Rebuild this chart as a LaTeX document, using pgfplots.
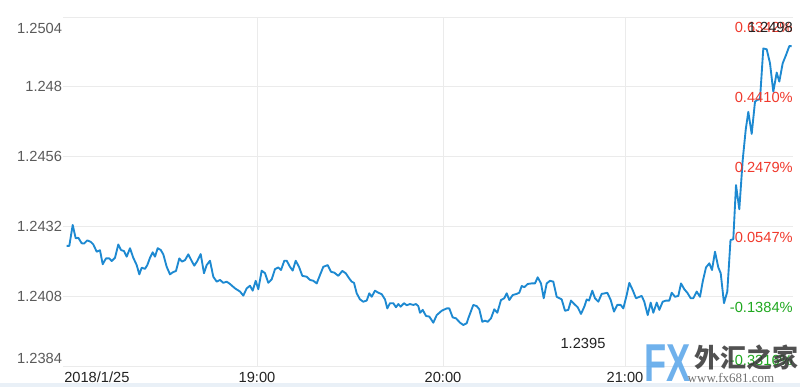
\documentclass[border=0pt]{standalone}
\usepackage{fontspec}
\setmainfont{Liberation Sans}
\newfontfamily\cjk{Noto Sans CJK SC}
\newfontfamily\wmserif{Liberation Serif}
\usepackage{pgfplots}
\usepackage{pgfplotstable}
\pgfplotsset{compat=1.18}
\definecolor{lineblue}{HTML}{1D89D1}
\definecolor{gridgray}{HTML}{EBEBEB}
\definecolor{ylab}{HTML}{5A5A5A}
\definecolor{xlab}{HTML}{222222}
\definecolor{upred}{HTML}{F0392C}
\definecolor{dngreen}{HTML}{1FA81F}
\definecolor{wmblue}{HTML}{5FA8EA}
\definecolor{band}{HTML}{E9F0F7}

\pgfplotstableread{
x y
66.7 1.24253
69.3 1.24253
72.7 1.24325
75.7 1.24279
78.3 1.24281
81.7 1.24262
84.0 1.24261
87.3 1.24272
90.7 1.24267
93.3 1.24258
96.7 1.24233
100.0 1.24238
102.7 1.24190
106.0 1.24210
109.3 1.24210
111.7 1.24201
115.0 1.24212
118.3 1.24258
121.0 1.24239
124.0 1.24235
126.7 1.24216
130.0 1.24245
133.3 1.24212
136.7 1.24187
139.3 1.24155
141.7 1.24178
145.0 1.24174
147.3 1.24187
150.0 1.24212
152.7 1.24231
155.0 1.24216
157.7 1.24245
160.7 1.24239
163.3 1.24224
166.7 1.24181
170.0 1.24155
172.7 1.24162
176.0 1.24167
179.3 1.24210
182.0 1.24199
185.0 1.24204
188.3 1.24224
191.7 1.24201
194.3 1.24185
197.3 1.24201
200.7 1.24225
204.0 1.24159
206.7 1.24187
210.0 1.24202
213.3 1.24147
216.7 1.24130
220.0 1.24136
223.3 1.24126
226.7 1.24130
230.0 1.24122
235.0 1.24107
240.0 1.24096
243.3 1.24082
246.7 1.24107
250.0 1.24116
252.7 1.24099
255.7 1.24133
258.3 1.24104
261.7 1.24168
265.0 1.24159
268.3 1.24126
271.7 1.24138
275.0 1.24173
278.3 1.24179
281.0 1.24170
284.3 1.24202
286.7 1.24202
290.0 1.24181
292.7 1.24168
295.7 1.24202
299.0 1.24181
302.3 1.24150
306.7 1.24147
310.0 1.24136
313.3 1.24133
316.7 1.24124
320.0 1.24153
323.3 1.24181
327.7 1.24187
331.0 1.24164
334.3 1.24161
338.3 1.24150
342.3 1.24167
345.7 1.24159
349.0 1.24142
351.7 1.24130
354.0 1.24126
356.7 1.24090
360.0 1.24069
363.3 1.24061
366.7 1.24065
369.3 1.24090
371.7 1.24078
375.0 1.24099
378.3 1.24092
381.7 1.24087
385.0 1.24069
387.3 1.24038
390.0 1.24056
393.3 1.24056
396.0 1.24042
398.3 1.24053
400.7 1.24044
404.0 1.24056
406.7 1.24049
410.0 1.24053
413.3 1.24050
416.0 1.24053
418.3 1.24046
420.0 1.24023
422.7 1.24033
426.0 1.24012
429.3 1.24010
433.3 1.23989
436.7 1.24015
441.7 1.24030
446.7 1.24038
449.3 1.24038
452.7 1.24007
456.0 1.24004
460.0 1.23989
463.3 1.23981
466.7 1.23987
468.3 1.24004
473.3 1.24050
476.7 1.24046
479.3 1.24035
482.3 1.23992
485.0 1.23996
487.7 1.23992
491.0 1.24004
494.3 1.24035
497.3 1.24023
501.0 1.24067
504.3 1.24073
506.7 1.24090
509.3 1.24067
512.7 1.24084
516.7 1.24088
519.3 1.24092
521.7 1.24115
524.3 1.24111
527.7 1.24122
531.7 1.24124
535.0 1.24124
537.7 1.24145
541.0 1.24124
543.7 1.24073
546.7 1.24124
550.0 1.24133
553.3 1.24130
556.7 1.24078
561.7 1.24069
565.0 1.24030
568.3 1.24033
571.0 1.24065
574.3 1.24053
577.7 1.24042
581.0 1.24019
584.3 1.24044
586.7 1.24069
589.0 1.24065
592.3 1.24099
595.0 1.24073
598.3 1.24061
601.7 1.24088
605.0 1.24090
607.3 1.24092
610.7 1.24067
614.0 1.24027
617.3 1.24050
620.7 1.24050
623.3 1.24038
626.7 1.24084
629.3 1.24126
632.7 1.24101
636.0 1.24073
641.7 1.24081
644.3 1.24061
647.7 1.24015
650.7 1.24058
653.3 1.24023
656.7 1.24058
659.3 1.24033
662.7 1.24061
666.0 1.24065
669.3 1.24065
671.7 1.24092
675.0 1.24078
678.3 1.24081
681.0 1.24124
684.3 1.24104
687.3 1.24092
690.7 1.24073
693.3 1.24073
696.7 1.24096
700.0 1.24078
702.7 1.24130
706.0 1.24179
709.3 1.24193
712.0 1.24170
715.0 1.24233
718.3 1.24179
720.7 1.24159
724.0 1.24056
727.3 1.24096
730.5 1.24273
733.3 1.24276
736.0 1.24462
739.3 1.24379
742.7 1.24548
745.7 1.24652
748.3 1.24714
751.7 1.24638
755.0 1.24749
757.3 1.24755
760.0 1.24757
763.3 1.24932
766.7 1.24929
770.0 1.24881
773.3 1.24783
776.7 1.24849
779.3 1.24818
782.7 1.24881
786.0 1.24909
789.3 1.24940
791.7 1.24940
}\pricedata

\begin{document}
\begin{tikzpicture}
\fill[band] (-47.25pt,-12.75pt) rectangle (552.75pt,-15.75pt);
\begin{axis}[
  name=ax,
  scale only axis,
  width=547.5pt, height=261.75pt,
  xmin=63, xmax=793,
  ymin=1.2384, ymax=1.2504,
  clip=false,
  axis line style={draw=none},
  major tick length=0pt,
  tick style={draw=none},
  grid=major,
  major grid style={gridgray, line width=0.75pt},
  xtick={257,443,625},
  xticklabels={19:00,20:00,21:00},
  ytick={1.2384,1.2408,1.2432,1.2456,1.248,1.2504},
  yticklabels={,1.2408,1.2432,1.2456,1.248,},
  /pgf/number format/assume math mode=true,
  ticklabel style={font=\fontsize{11}{13}\selectfont},
  yticklabel style={text=ylab, anchor=east, inner xsep=0.5pt},
  xticklabel style={text=xlab, anchor=north, inner ysep=0pt, yshift=-4.5pt},
]
\addplot[lineblue, line width=1.4pt, line join=round] table[x=x, y=y] {\pricedata};
\end{axis}
\begin{scope}[every node/.style={font=\fontsize{11}{13}\selectfont}]
\node[anchor=east, text=ylab, inner xsep=0.5pt] at ([yshift=-8.25pt]ax.north west) {1.2504};
\node[anchor=east, text=ylab, inner xsep=0.5pt] at ([yshift=6pt]ax.south west) {1.2384};
\node[anchor=north west, text=xlab, inner sep=0pt] at ([xshift=0.75pt,yshift=-4.5pt]ax.south west) {2018/1/25};
% percentage labels
\node[anchor=east, text=upred, inner sep=0pt] at (547.5pt,{261.75pt-7.5pt}) {0.6342\%};
\node[anchor=east, text=xlab, inner sep=0pt] at (547.5pt,{261.75pt-7.5pt}) {1.2498};
\node[anchor=east, text=upred, inner sep=0pt] at (547.5pt,{(366-97)*0.75pt}) {0.4410\%};
\node[anchor=east, text=upred, inner sep=0pt] at (547.5pt,{(366-167)*0.75pt}) {0.2479\%};
\node[anchor=east, text=upred, inner sep=0pt] at (547.5pt,{(366-237)*0.75pt}) {0.0547\%};
\node[anchor=east, text=dngreen, inner sep=0pt] at (547.5pt,{(366-307)*0.75pt}) {-0.1384\%};
\node[anchor=east, text=dngreen, inner sep=0pt] at (547.5pt,{(366-360)*0.75pt}) {-0.3316\%};
\node[text=xlab, inner sep=0pt] at ({(583-63)*0.75pt},{(366-343)*0.75pt}) {1.2395};
\end{scope}
% watermark
\node[inner sep=0pt, text=wmblue, font=\bfseries\fontsize{40}{40}\selectfont, xscale=0.68, opacity=0.9] at ({(668-63)*0.75pt},{(366-363)*0.75pt}) {FX};
\node[inner sep=0pt, text=black!80, font=\cjk\bfseries\fontsize{19.5}{20}\selectfont, opacity=0.85] at ({(746-63)*0.75pt},{(366-357)*0.75pt}) {外汇之家};
\node[inner sep=0pt, text=black!65, font=\wmserif\fontsize{9.75}{10}\selectfont, opacity=0.85] at ({(731-63)*0.75pt},{(366-378)*0.75pt}) {www.fx681.com};
\pgfresetboundingbox
\path (-47.25pt,-15.75pt) rectangle (552.75pt,274.5pt);
\end{tikzpicture}
\end{document}
